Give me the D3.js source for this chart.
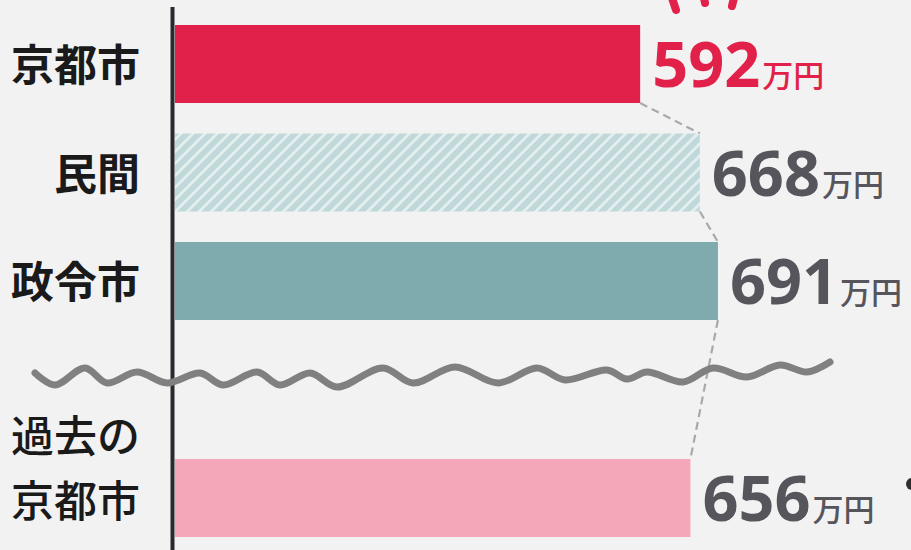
<!DOCTYPE html>
<html lang="ja">
<head>
  <meta charset="UTF-8" />
  <title>年収比較</title>
  <script src="https://d3js.org/d3.v7.min.js"></script>
  <style>
    html, body { margin: 0; padding: 0; background: #f2f2f2; }
    svg { display: block; }
  </style>
</head>
<body>
  <svg id="chart" width="911" height="550"></svg>

  <script>
    // data
    const categories = ["京都市", "民間", "政令市", "過去の京都市"];
    const labelLines = [["京都市"], ["民間"], ["政令市"], ["過去の", "京都市"]];
    const values = [592, 668, 691, 656];
    const unit = "万円";

    const width = 911;
    const height = 550;
    const axisX = 175;

    const fills = ["#e2214b", "url(#hatch)", "#7faaae", "#f4a7b8"];
    const valueColors = ["#e2214b", "#56555b", "#56555b", "#56555b"];

    const svg = d3.select("#chart");

    svg.append("rect")
      .attr("width", width)
      .attr("height", height)
      .attr("fill", "#f2f2f2");

    // hatch for 民間
    const pat = svg.append("defs").append("pattern")
      .attr("id", "hatch")
      .attr("patternUnits", "userSpaceOnUse")
      .attr("width", 8.5)
      .attr("height", 8.5)
      .attr("patternTransform", "rotate(45)");
    pat.append("rect")
      .attr("width", 8.5).attr("height", 8.5)
      .attr("fill", "#c0d8d9");
    pat.append("rect")
      .attr("width", 2.8).attr("height", 8.5)
      .attr("fill", "#e4efef");

    // scales (empty slot for the break)
    const slots = [categories[0], categories[1], categories[2], "__break", categories[3]];
    const y = d3.scaleBand()
      .domain(slots)
      .range([25, 537])
      .paddingInner(0.281)
      .paddingOuter(0);

    const x = d3.scaleLinear()
      .domain([0, 700])
      .range([axisX, axisX + 550]);

    const rows = categories.map((c, i) => ({
      cat: c, value: values[i], lines: labelLines[i], i: i
    }));

    // dashed connectors between bar ends
    const conn = svg.append("g");
    for (let i = 0; i < rows.length - 1; i++) {
      const a = rows[i], b = rows[i + 1];
      conn.append("line")
        .attr("x1", x(a.value))
        .attr("y1", y(a.cat) + y.bandwidth())
        .attr("x2", x(b.value))
        .attr("y2", y(b.cat))
        .attr("stroke", "#a9a9a9")
        .attr("stroke-width", 2.2)
        .attr("stroke-dasharray", "8 5");
    }

    // bars
    svg.append("g").selectAll("rect")
      .data(rows)
      .join("rect")
        .attr("x", x(0))
        .attr("y", d => y(d.cat))
        .attr("width", d => x(d.value) - x(0))
        .attr("height", y.bandwidth())
        .attr("fill", d => fills[d.i]);

    // value labels
    const vl = svg.append("g").selectAll("text")
      .data(rows)
      .join("text")
        .attr("x", d => x(d.value) + 12)
        .attr("y", d => y(d.cat) + y.bandwidth() / 2 + 23)
        .attr("fill", d => valueColors[d.i]);
    vl.append("tspan")
      .attr("font-family", "'Open Sans', 'Noto Sans', sans-serif")
      .attr("font-weight", 700)
      .attr("font-size", 63)
      .text(d => d.value);
    vl.append("tspan")
      .attr("dx", 2)
      .attr("font-family", "'Noto Sans CJK JP', sans-serif")
      .attr("font-weight", 500)
      .attr("font-size", 31)
      .text(unit);

    // category labels
    const cl = svg.append("g").selectAll("text")
      .data(rows)
      .join("text")
        .attr("text-anchor", "end")
        .attr("font-family", "'Noto Sans CJK JP', sans-serif")
        .attr("font-size", 43)
        .attr("font-weight", d => d.lines.length > 1 ? 500 : 700)
        .attr("fill", "#1a1a1a");
    cl.selectAll("tspan")
      .data(d => d.lines.map((t, k) => ({
        t: t, k: k, n: d.lines.length, cy: y(d.cat) + y.bandwidth() / 2
      })))
      .join("tspan")
        .attr("x", 140)
        .attr("y", s => s.n > 1 ? s.cy + 19 - (s.n - 1 - s.k) * 65 : s.cy + 17)
        .text(s => s.t);

    // axis line
    svg.append("line")
      .attr("x1", axisX - 2.5).attr("x2", axisX - 2.5)
      .attr("y1", 7).attr("y2", height)
      .attr("stroke", "#2a2a2e")
      .attr("stroke-width", 4);

    // hand-drawn break line
    const wave = [
      [35, 373], [55, 385], [85, 368], [107, 383], [137, 372], [167, 383],
      [200, 373], [223, 385], [257, 372], [280, 385], [310, 373], [337, 387],
      [383, 368], [413, 383], [455, 367], [498, 383], [537, 368], [565, 380],
      [607, 370], [627, 379], [647, 372], [683, 382], [713, 368], [747, 377],
      [780, 365], [807, 372], [830, 362]
    ];
    svg.append("path")
      .attr("d", d3.line().curve(d3.curveCatmullRom.alpha(0.5))(wave))
      .attr("fill", "none")
      .attr("stroke", "#808080")
      .attr("stroke-width", 7)
      .attr("stroke-linecap", "round")
      .attr("stroke-linejoin", "round");

    // cut-off decorations at the edges
    const marks = [[[672, -2], [676, 10]], [[704, -2], [705, 3]], [[734, -2], [732, 6]]];
    svg.append("g").selectAll("line")
      .data(marks)
      .join("line")
        .attr("x1", d => d[0][0]).attr("y1", d => d[0][1])
        .attr("x2", d => d[1][0]).attr("y2", d => d[1][1])
        .attr("stroke", "#e2214b")
        .attr("stroke-width", 8)
        .attr("stroke-linecap", "round");

    svg.append("circle")
      .attr("cx", 912).attr("cy", 484).attr("r", 6)
      .attr("fill", "#2e2e30");
  </script>
</body>
</html>
